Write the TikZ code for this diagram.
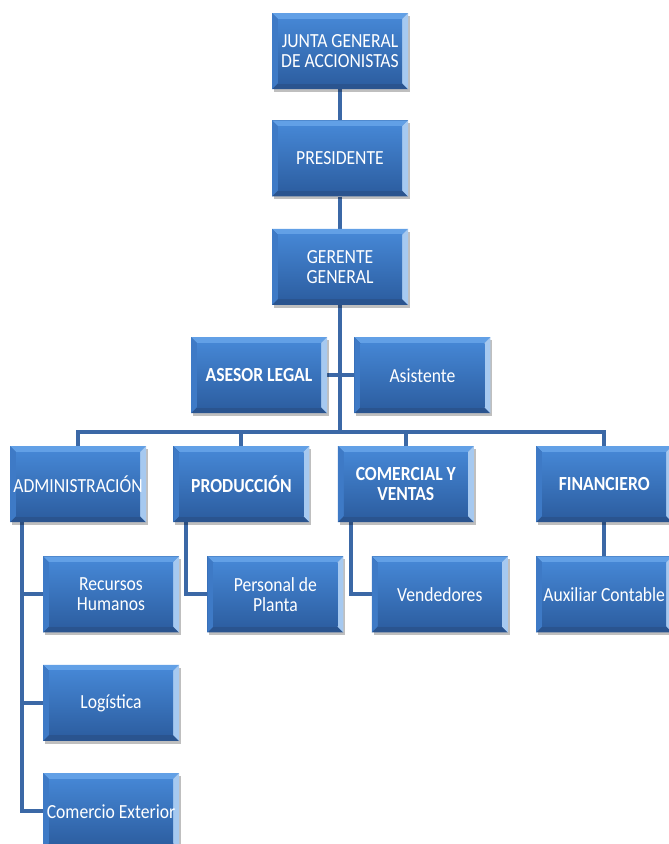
\documentclass[tikz,border=0pt]{standalone}
\usepackage{fontspec}
\setmainfont{Carlito}[FakeStretch=0.88]
\usepackage{tikz}
\usetikzlibrary{positioning,shadows,backgrounds}
\definecolor{bevtop}{HTML}{62A0E6}
\definecolor{bevbot}{HTML}{2A548F}
\definecolor{bevleft}{HTML}{3E7AC6}
\definecolor{bevright}{HTML}{A6C9F0}
\definecolor{facetop}{HTML}{4586D4}
\definecolor{facebot}{HTML}{2D5FA2}
\definecolor{linkblue}{HTML}{3B68A6}

\begin{document}
\begin{tikzpicture}[x=1pt,y=-1pt,
node distance=32pt and 27pt,
unit/.style={minimum width=136pt,minimum height=76pt,inner sep=1pt,align=center,
  text=white,font=\fontsize{20}{20}\selectfont,fill=facebot,
  drop shadow={shadow xshift=2pt,shadow yshift=-3pt,opacity=.25,fill=black},
  path picture={
    \path (path picture bounding box.north west) coordinate (pnw)
          (path picture bounding box.north east) coordinate (pne)
          (path picture bounding box.south east) coordinate (pse)
          (path picture bounding box.south west) coordinate (psw);
    \fill[bevtop] (pnw) -- (pne) -- ([shift={(-6pt,-6pt)}]pne) -- ([shift={(6pt,-6pt)}]pnw) -- cycle;
    \fill[bevbot] (psw) -- (pse) -- ([shift={(-6pt,6pt)}]pse) -- ([shift={(6pt,6pt)}]psw) -- cycle;
    \fill[bevleft] (pnw) -- (psw) -- ([shift={(6pt,6pt)}]psw) -- ([shift={(6pt,-6pt)}]pnw) -- cycle;
    \fill[bevright] (pne) -- (pse) -- ([shift={(-6pt,6pt)}]pse) -- ([shift={(-6pt,-6pt)}]pne) -- cycle;
    \shade[top color=facetop,bottom color=facebot]
      ([shift={(6pt,-6pt)}]pnw) rectangle ([shift={(-6pt,6pt)}]pse);
  }},
head/.style={unit,font=\fontsize{20}{20}\selectfont\bfseries},
link/.style={draw=linkblue,line width=4pt}]
\useasboundingbox (0,0) rectangle (669,844);
\clip (0,0) rectangle (669,844);
% top chain
\node[unit] (junta) at (340,51) {JUNTA GENERAL\\DE ACCIONISTAS};
\node[unit,below=31pt of junta] (pres) {PRESIDENTE};
\node[unit,below=of pres] (ger) {GERENTE\\GENERAL};
\node[head,below=of ger,xshift=-81pt] (asesor) {ASESOR LEGAL};
\node[unit,right=of asesor] (asist) {Asistente};
% departments
\node[unit] (adm) at (78,484) {ADMINISTRACIÓN};
\node[head,right=of adm] (prod) {PRODUCCIÓN};
\node[head,right=28pt of prod] (com) {COMERCIAL Y\\VENTAS};
\node[head,right=62pt of com] (fin) {FINANCIERO};
% staff
\node[unit,below=34pt of adm,xshift=33pt] (rrhh) {Recursos\\Humanos};
\node[unit,below=of rrhh] (logis) {Logística};
\node[unit,below=of logis] (cext) {Comercio Exterior};
\node[unit,below=34pt of prod,xshift=34pt] (planta) {Personal de\\Planta};
\node[unit,below=34pt of com,xshift=34pt] (vend) {Vendedores};
\node[unit,below=34pt of fin] (aux) {Auxiliar Contable};
\coordinate (bus) at (340,432);
\begin{scope}[on background layer]
\draw[link] (junta) -- (pres);
\draw[link] (pres) -- (ger);
\draw[link] (ger.south) -- (bus);
\draw[link] (asesor.east) -- (asist.west);
\draw[link] (adm.north) |- (bus) -| (fin.north);
\draw[link] (prod.north) -- (prod.north |- bus);
\draw[link] (com.north) -- (com.north |- bus);
\draw[link] ([xshift=12pt]adm.south west) |- (cext.west);
\draw[link] ([xshift=12pt]adm.south west |- rrhh.west) -- (rrhh.west);
\draw[link] ([xshift=12pt]adm.south west |- logis.west) -- (logis.west);
\draw[link] ([xshift=13pt]prod.south west) |- (planta.west);
\draw[link] ([xshift=13pt]com.south west) |- (vend.west);
\draw[link] (fin) -- (aux);
\end{scope}
\end{tikzpicture}
\end{document}
